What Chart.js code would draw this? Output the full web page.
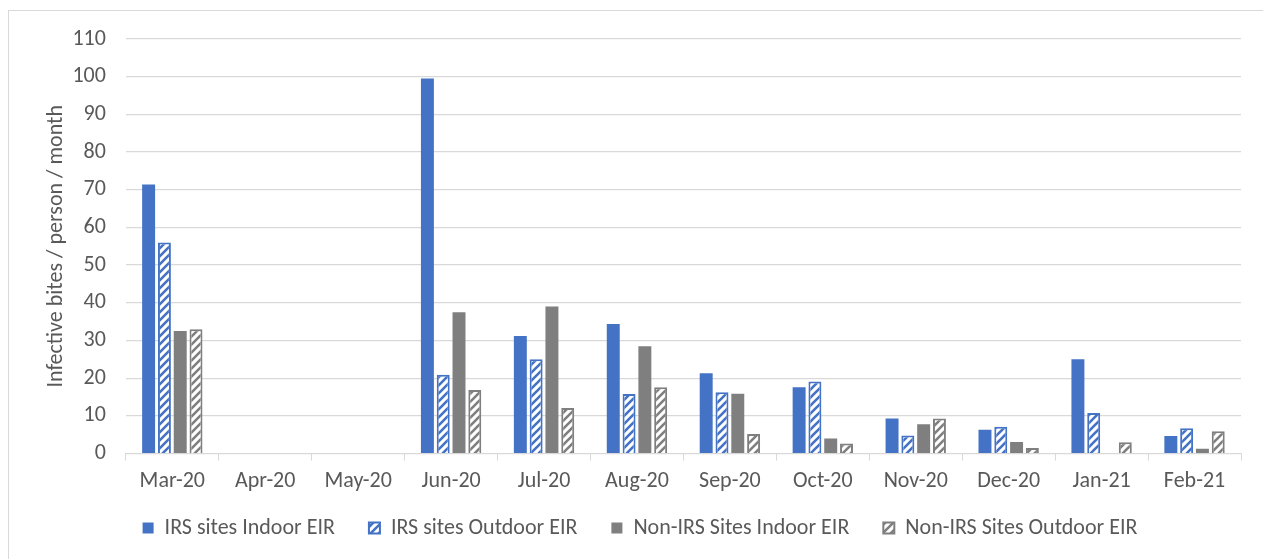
<!doctype html>
<html>
<head>
<meta charset="utf-8" />
<style>
  html, body { margin: 0; padding: 0; background: #fff; }
  .frame {
    position: absolute; left: 8px; top: 10px; width: 1255px; height: 549px;
    border-left: 1px solid #d9d9d9; border-top: 1px solid #d9d9d9;
  }
  canvas { position: absolute; left: 0; top: 0; }
</style>
</head>
<body>
<div class="frame"></div>
<canvas id="c" width="1263" height="559"></canvas>
<script src="https://cdn.jsdelivr.net/npm/chart.js"></script>
<script>
// months sampled (no collections in Apr/May 2020)
const months = ["Mar-20", "Apr-20", "May-20", "Jun-20", "Jul-20", "Aug-20",
                "Sep-20", "Oct-20", "Nov-20", "Dec-20", "Jan-21", "Feb-21"];

const irsIndoor     = [71.4, null, null, 99.5, 31.2, 34.4, 21.3, 17.6, 9.3, 6.3, 25.0, 4.7];
const irsOutdoor    = [56.0, null, null, 20.9, 25.0, 15.8, 16.3, 19.1, 4.8, 7.1, 10.8, 6.7];
const nonIrsIndoor  = [32.5, null, null, 37.5, 39.0, 28.5, 15.9, 4.0, 7.8, 3.1, 0, 1.3];
const nonIrsOutdoor = [33.0, null, null, 16.9, 12.1, 17.6, 5.2, 2.7, 9.3, 1.5, 3.0, 5.9];

const yTicks = [0, 10, 20, 30, 40, 50, 60, 70, 80, 90, 100, 110];

const BLUE = "#4472c4";
const GREY = "#7f7f7f";
const FONT = 'Carlito, "Liberation Sans", Arial, sans-serif';
const X_SHRINK = 20;

// white fill with "/" stripes for the outdoor series
function hatch(color) {
  const s = 8;
  const p = document.createElement("canvas");
  p.width = s; p.height = s;
  const g = p.getContext("2d");
  g.fillStyle = "#fff";
  g.fillRect(0, 0, s, s);
  g.strokeStyle = color;
  g.lineWidth = 2.6;
  g.beginPath();
  g.moveTo(-2, s + 2); g.lineTo(s + 2, -2);
  g.moveTo(-2, 2); g.lineTo(2, -2);
  g.moveTo(s - 2, s + 2); g.lineTo(s + 2, s - 2);
  g.stroke();
  return g.createPattern(p, "repeat");
}

// x axis box is shrunk so the legend sits close; give the labels their clip room back
const xLabelRoom = {
  id: "xLabelRoom",
  afterLayout(chart) { chart.scales.x.bottom += X_SHRINK; }
};

const ctx = document.getElementById("c").getContext("2d");

new Chart(ctx, {
  type: "bar",
  data: {
    labels: months,
    datasets: [
      { label: "IRS sites Indoor EIR", data: irsIndoor, backgroundColor: BLUE, borderWidth: 0 },
      { label: "IRS sites Outdoor EIR", data: irsOutdoor, backgroundColor: hatch(BLUE), borderColor: BLUE, borderWidth: 2 },
      { label: "Non-IRS Sites Indoor EIR", data: nonIrsIndoor, backgroundColor: GREY, borderWidth: 0 },
      { label: "Non-IRS Sites Outdoor EIR", data: nonIrsOutdoor, backgroundColor: hatch(GREY), borderColor: GREY, borderWidth: 2 }
    ]
  },
  plugins: [xLabelRoom],
  options: {
    responsive: false,
    animation: false,
    devicePixelRatio: 1,
    categoryPercentage: 0.68,
    barPercentage: 0.82,
    layout: { padding: { top: 39, right: 22, left: 39, bottom: 10 } },
    plugins: {
      tooltip: { enabled: false },
      legend: {
        position: "bottom",
        labels: {
          color: "#595959",
          font: { family: FONT, size: 22 },
          boxWidth: 11,
          boxHeight: 11,
          padding: 34
        }
      }
    },
    scales: {
      x: {
        offset: true,
        grid: { display: true, drawOnChartArea: false, offset: true, color: "#d9d9d9", tickLength: 7 },
        border: { color: "#d9d9d9" },
        ticks: { color: "#595959", font: { family: FONT, size: 22 }, padding: 8, maxRotation: 0 },
        afterFit: (axis) => { axis.height -= X_SHRINK; }
      },
      y: {
        min: 0,
        max: 110,
        afterBuildTicks: (axis) => { axis.ticks = yTicks.map(v => ({ value: v })); },
        grid: { color: "#d9d9d9", lineWidth: 1.3, drawTicks: false },
        border: { display: false },
        ticks: { color: "#595959", font: { family: FONT, size: 22 }, padding: 20 },
        title: {
          display: true,
          text: "Infective bites / person / month",
          color: "#595959",
          font: { family: FONT, size: 22 },
          padding: { top: 4, bottom: -17 }
        }
      }
    }
  }
});
</script>
</body>
</html>
